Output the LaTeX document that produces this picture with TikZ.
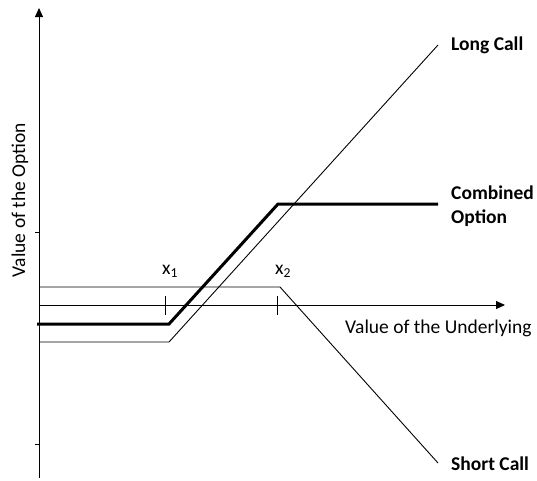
\documentclass[tikz,border=0pt]{standalone}
\usepackage{fontspec}
\setmainfont{Carlito}
\usetikzlibrary{arrows.meta}
\begin{document}
\begin{tikzpicture}[x=1pt,y=-1pt,
  axis/.style={line width=0.9pt,-{Triangle[length=9pt,width=8pt]}},
  thin line/.style={line width=0.9pt},
  thick line/.style={line width=3pt},
  lbl/.style={font=\fontsize{19.5}{23}\selectfont,inner sep=0pt},
  blbl/.style={font=\fontsize{19.5}{24}\selectfont\bfseries,inner sep=0pt,anchor=west,align=left}]
\useasboundingbox (0,0) rectangle (537,480);
% axes
\coordinate (yb) at (39,478);
\coordinate (yt) at (39,8);
\coordinate (xl) at (39,305);
\coordinate (xr) at (505,305);
\draw[axis] (yb) -- (yt);
\draw[axis] (xl) -- (xr);
% y ticks
\coordinate (t1a) at (35,232); \coordinate (t1b) at (39,232);
\coordinate (t2a) at (35,444); \coordinate (t2b) at (39,444);
\draw[thin line] (t1a) -- (t1b);
\draw[thin line] (t2a) -- (t2b);
% x ticks
\coordinate (x1a) at (165,296); \coordinate (x1b) at (165,315);
\coordinate (x2a) at (277,296); \coordinate (x2b) at (277,315);
\draw[thin line] (x1a) -- (x1b);
\draw[thin line] (x2a) -- (x2b);
% long call
\coordinate (lc0) at (39,342);
\coordinate (lc1) at (169,342);
\coordinate (lc2) at (438,45);
\draw[thin line] (lc0) -- (lc1) -- (lc2);
% short call
\coordinate (sc0) at (39,287);
\coordinate (sc1) at (280,287);
\coordinate (sc2) at (438,463);
\draw[thin line] (sc0) -- (sc1) -- (sc2);
% combined
\coordinate (cb0) at (37,324);
\coordinate (cb1) at (169,324);
\coordinate (cb2) at (278,204);
\coordinate (cb3) at (438,204);
\draw[thick line] (cb0) -- (cb1) -- (cb2) -- (cb3);
% labels
\node[blbl] (llc) at (451,45) {Long Call};
\node[blbl] (lcb) at (451,206) {Combined\\Option};
\node[blbl] (lsc) at (451,464) {Short Call};
\node[lbl,anchor=west] (lxu) at (345,328) {Value of the Underlying};
\node[lbl,rotate=90] (lyo) at (20,200) {Value of the Option};
\node[lbl] (lx1) at (170,271) {x\textsubscript{1}};
\node[lbl] (lx2) at (283,271) {x\textsubscript{2}};
\end{tikzpicture}
\end{document}
